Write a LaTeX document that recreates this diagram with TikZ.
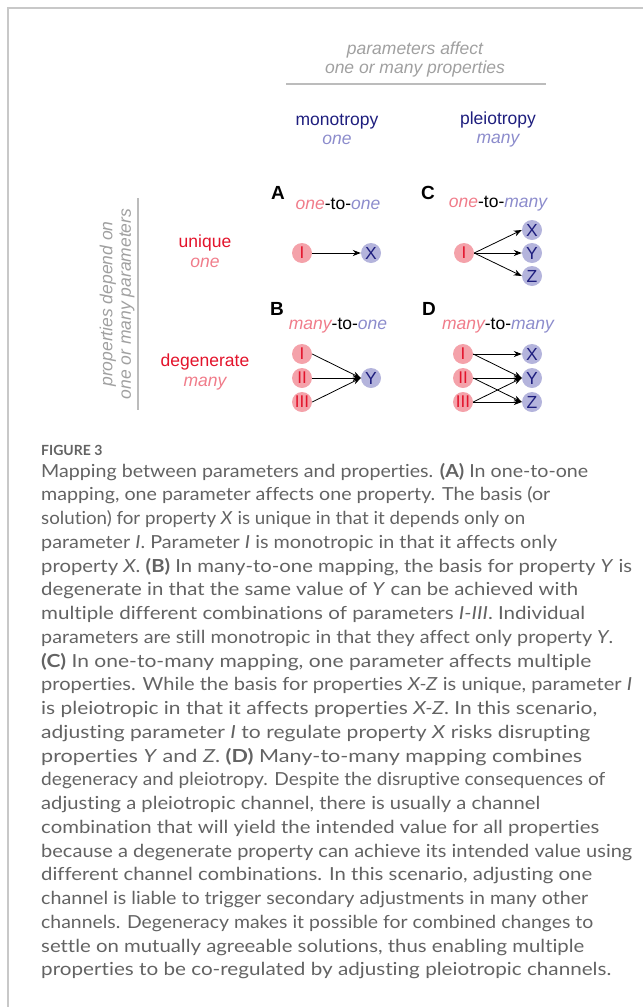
\documentclass[tikz,border=0pt]{standalone}
\usepackage{fontspec}
\usepackage{graphicx}
\setmainfont{Liberation Sans}
\newfontfamily\capfont[Ligatures={NoCommon,NoRare}]{Lato}
\usetikzlibrary{arrows.meta}
\definecolor{navy}{HTML}{1E1E7E}
\definecolor{lblue}{HTML}{8C8CCC}
\definecolor{nblue}{HTML}{B4B4DC}
\definecolor{redt}{HTML}{E3132B}
\definecolor{lpink}{HTML}{F07C8A}
\definecolor{npink}{HTML}{F4A2AA}
\definecolor{greyt}{HTML}{A0A0A0}
\definecolor{capgrey}{HTML}{636363}
\definecolor{framegrey}{HTML}{C8C8C8}
\begin{document}
\begin{tikzpicture}[x=1pt,y=-1pt,
  lab/.style={font=\fontsize{17.5}{19}\selectfont, inner sep=0, align=center},
  glab/.style={lab, text=greyt, font=\fontsize{17.5}{18.5}\selectfont\itshape},
  panel/.style={font=\fontsize{19}{19}\selectfont\bfseries, inner sep=0},
  pnode/.style={circle, fill=npink, minimum size=20pt, inner sep=0, text=redt, font=\fontsize{17}{17}\selectfont},
  bnode/.style={circle, fill=nblue, minimum size=20pt, inner sep=0, text=navy, font=\fontsize{17.5}{17.5}\selectfont},
  arr/.style={-{Stealth[length=8pt,width=6pt]}, line width=0.8pt},
  capline/.style={anchor=base west, inner sep=0, text=capgrey, font=\capfont\fontsize{18}{22}\selectfont}
]
\useasboundingbox (0,0) rectangle (643,1007);
% frame
\draw[framegrey, line width=1.5pt] (8,1007) -- (8,8) -- (643,8);

% top header
\node[glab] (hdr) at (415,59.5) {parameters affect\\one or many properties};
\draw[greyt!70, line width=1.2pt] (286,84) -- (546,84);
\node[lab] (mono) at (337,129.5) {\textcolor{navy}{monotropy}\\\textcolor{lblue}{\itshape one}};
\node[lab] (plei) at (498,129.5) {\textcolor{navy}{pleiotropy}\\\textcolor{lblue}{\itshape many}};

% left header
\node[glab, rotate=90] (side) at (117,304) {properties depend on\\one or many parameters};
\draw[greyt!70, line width=1.2pt] (138,198) -- (138,410);
\node[lab, font=\fontsize{17.5}{20}\selectfont] (uniq) at (205,251) {\textcolor{redt}{unique}\\\textcolor{lpink}{\itshape one}};
\node[lab, font=\fontsize{17.5}{20}\selectfont] (degen) at (205,372) {\textcolor{redt}{degenerate}\\\textcolor{lpink}{\itshape many}};

% panel labels
\node[panel] (pA) at (278,193) {A};
\node[panel] (pC) at (428,193) {C};
\node[panel] (pB) at (277,309) {B};
\node[panel] (pD) at (429,309) {D};
\node[lab] (tA) at (338,204) {\textcolor{lpink}{\itshape one}-to-\textcolor{lblue}{\itshape one}};
\node[lab] (tC) at (498,204) {\textcolor{lpink}{\itshape one}-to-\textcolor{lblue}{\itshape many}};
\node[lab] (tB) at (338,326) {\textcolor{lpink}{\itshape many}-to-\textcolor{lblue}{\itshape one}};
\node[lab] (tD) at (498,326) {\textcolor{lpink}{\itshape many}-to-\textcolor{lblue}{\itshape many}};

% panel A
\node[pnode] (aI) at (302,253) {I};
\node[bnode] (aX) at (371,253) {X};
\draw[arr] (aI) -- (aX);

% panel C
\node[pnode] (cI) at (464,253) {I};
\node[bnode] (cX) at (532,230) {X};
\node[bnode] (cY) at (532,253) {Y};
\node[bnode] (cZ) at (532,276) {Z};
\draw[arr] (cI.east) -- (cX.west);
\draw[arr] (cI.east) -- (cY.west);
\draw[arr] (cI.east) -- (cZ.west);

% panel B
\node[pnode] (b1) at (302,354) {I};
\node[pnode] (b2) at (302,378) {II};
\node[pnode] (b3) at (302,402) {III};
\node[bnode] (bY) at (371,378) {Y};
\draw[arr] (b1.east) -- (bY.west);
\draw[arr] (b2.east) -- (bY.west);
\draw[arr] (b3.east) -- (bY.west);

% panel D
\node[pnode] (d1) at (463,354) {I};
\node[pnode] (d2) at (463,378) {II};
\node[pnode] (d3) at (463,402) {III};
\node[bnode] (dX) at (532,354) {X};
\node[bnode] (dY) at (532,378) {Y};
\node[bnode] (dZ) at (532,402) {Z};
\draw[arr] (d1.east) -- (dX.west);
\draw[arr] (d1.east) -- (dY.west);
\draw[arr] (d2.east) -- (dY.west);
\draw[arr] (d2.east) -- (dZ.west);
\draw[arr] (d3.east) -- (dY.west);
\draw[arr] (d3.east) -- (dZ.west);

% caption
\node[anchor=base west, inner sep=0, text=capgrey, font=\capfont\bfseries\fontsize{14}{14}\selectfont] (fig) at (41,455) {FIGURE 3};
\foreach \t/\w [count=\i] in {
{Mapping between parameters and properties. \textbf{(A)} In one-to-one}/547,
{mapping, one parameter affects one property. The basis (or}/509,
{solution) for property \textit{X} is unique in that it depends only on}/484,
{parameter \textit{I}. Parameter \textit{I} is monotropic in that it affects only}/516,
{property \textit{X}. \textbf{(B)} In many-to-one mapping, the basis for property \textit{Y} is}/591,
{degenerate in that the same value of \textit{Y} can be achieved with}/537,
{multiple different combinations of parameters \textit{I-III}. Individual}/544,
{parameters are still monotropic in that they affect only property \textit{Y}.}/572,
{\textbf{(C)} In one-to-many mapping, one parameter affects multiple}/550,
{properties. While the basis for properties \textit{X-Z} is unique, parameter \textit{I}}/591,
{is pleiotropic in that it affects properties \textit{X-Z}. In this scenario,}/556,
{adjusting parameter \textit{I} to regulate property \textit{X} risks disrupting}/549,
{properties \textit{Y} and \textit{Z}. \textbf{(D)} Many-to-many mapping combines}/541,
{degeneracy and pleiotropy. Despite the disruptive consequences of}/564,
{adjusting a pleiotropic channel, there is usually a channel}/499,
{combination that will yield the intended value for all properties}/558,
{because a degenerate property can achieve its intended value using}/591,
{different channel combinations. In this scenario, adjusting one}/551,
{channel is liable to trigger secondary adjustments in many other}/547,
{channels. Degeneracy makes it possible for combined changes to}/552,
{settle on mutually agreeable solutions, thus enabling multiple}/543,
{properties to be co-regulated by adjusting pleiotropic channels.}/570}
  \node[capline] (cap\i) at (41,{477+(\i-1)*23.76}) {\resizebox{\w pt}{\height}{\t}};
\end{tikzpicture}
\end{document}
